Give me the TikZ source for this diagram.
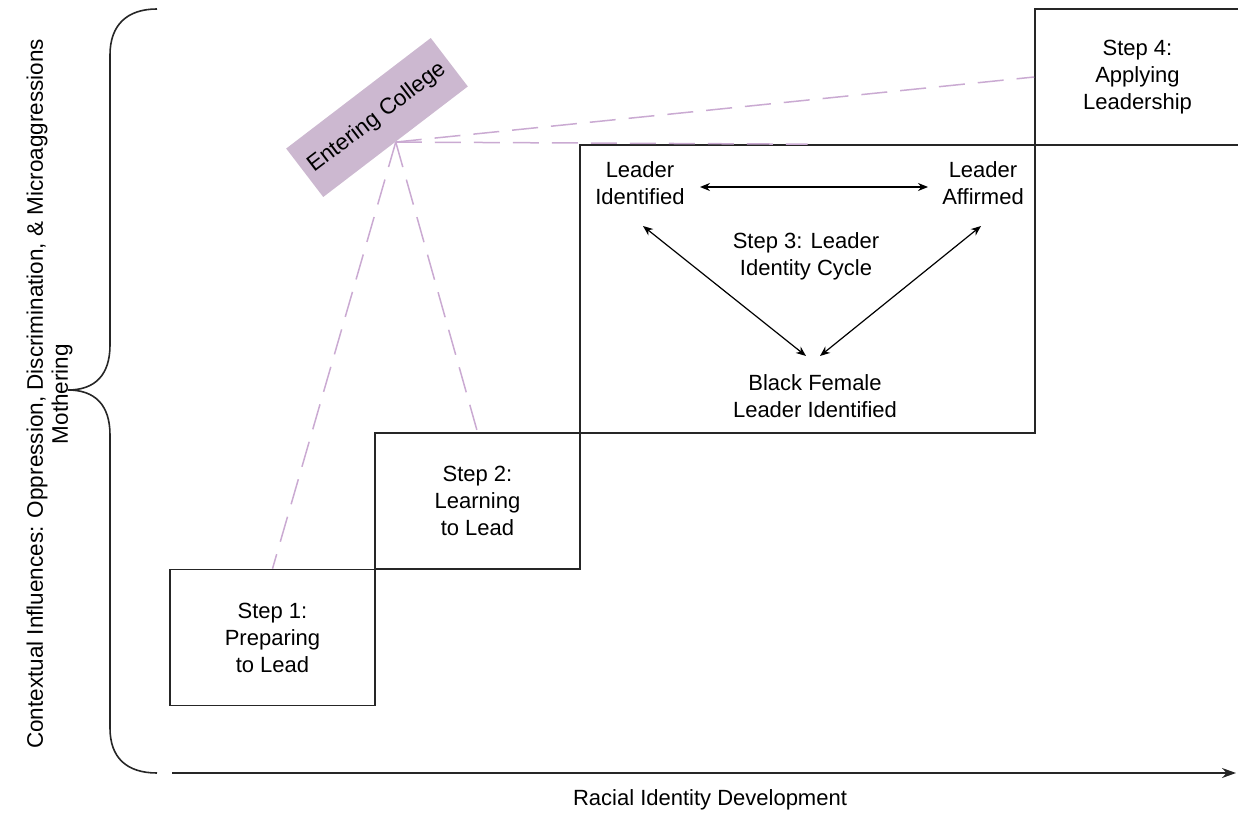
\documentclass[tikz,border=0pt]{standalone}
\usepackage{fontspec}
\setmainfont{Liberation Sans}
\usetikzlibrary{arrows.meta,calc}
\definecolor{ecfill}{RGB}{204,184,208}
\definecolor{dashc}{RGB}{202,170,210}
\begin{document}
\begin{tikzpicture}[x=0.5pt,y=-0.5pt,
  stepbox/.style={draw=black!85, line width=0.8pt, minimum width=102.5pt, minimum height=68pt, inner sep=0pt, align=center, font=\fontsize{11}{13.5}\selectfont},
  lbl/.style={align=center, font=\fontsize{11}{13.5}\selectfont, inner sep=1pt},
  link/.style={dashc, line width=0.75pt, dash pattern=on 13pt off 6.5pt},
  arr/.style={line width=0.6pt, {Stealth[length=5pt,width=4pt]}-{Stealth[length=5pt,width=4pt]}},
  linec/.style={black!85, line width=0.8pt}
]
\useasboundingbox (0,0) rectangle (1238,813);

% Entering College
\node[fill=ecfill, rotate=37.4, minimum width=91pt, minimum height=30.5pt, inner sep=0pt, font=\fontsize{11.3}{13.5}\selectfont] (ec) at (377,117.5) {Entering College};

% Step boxes
\node[stepbox] (s1) at (272.5,637.5) {Step 1:\\Preparing\\to Lead};
\node[stepbox] (s2) at (477.5,501) {Step 2:\\Learning\\to Lead};
\node[stepbox, minimum width=227.5pt, minimum height=144pt] (s3) at (807.5,289) {};
\node[stepbox] (s4) at (1137.5,77) {Step 4:\\Applying\\Leadership};

% dashed links
\draw[link] (ec.south) -- (s1.north);
\draw[link] (ec.south) -- (s2.north);
\draw[link] (ec.south) -- (s3.north);
\draw[link] (ec.south) -- (s4.west);

% Step 3 contents
\node[lbl] (li) at (640,183) {Leader\\Identified};
\node[lbl] (la) at (983,183) {Leader\\Affirmed};
\node[lbl] (s3t) at (806,256) {Step 3: Leader\\Identity Cycle};
\node[lbl] (bf) at (815,396) {Black Female\\Leader Identified};

\draw[arr] ($(li)+(60,4)$) -- ($(la)+(-55,4)$);
\draw[arr] ($(li)+(3,43)$) -- ($(bf)+(-9,-40)$);
\draw[arr] ($(la)+(-2,43)$) -- ($(bf)+(5,-40)$);

% brace
\draw[linec] (157,9) .. controls (127,9) and (110,25) .. (110,55) -- (110,345)
  .. controls (110,375) and (95,390) .. (68,390)
  .. controls (95,390) and (110,405) .. (110,435) -- (110,728)
  .. controls (110,758) and (127,773) .. (157,773);

\node[rotate=90, align=center, inner sep=1pt, font=\fontsize{11.25}{12.5}\selectfont] (ctx) at (49.5,394)
  {Contextual Influences: Oppression, Discrimination, \& Microaggressions\\Mothering};

% axis
\coordinate (xa0) at (172,773);
\coordinate (xa1) at (1236,773);
\draw[linec, -{Stealth[length=7pt,width=5pt]}] (xa0) -- (xa1);
\node[lbl] (xl) at (710,800) {Racial Identity Development};
\end{tikzpicture}
\end{document}
